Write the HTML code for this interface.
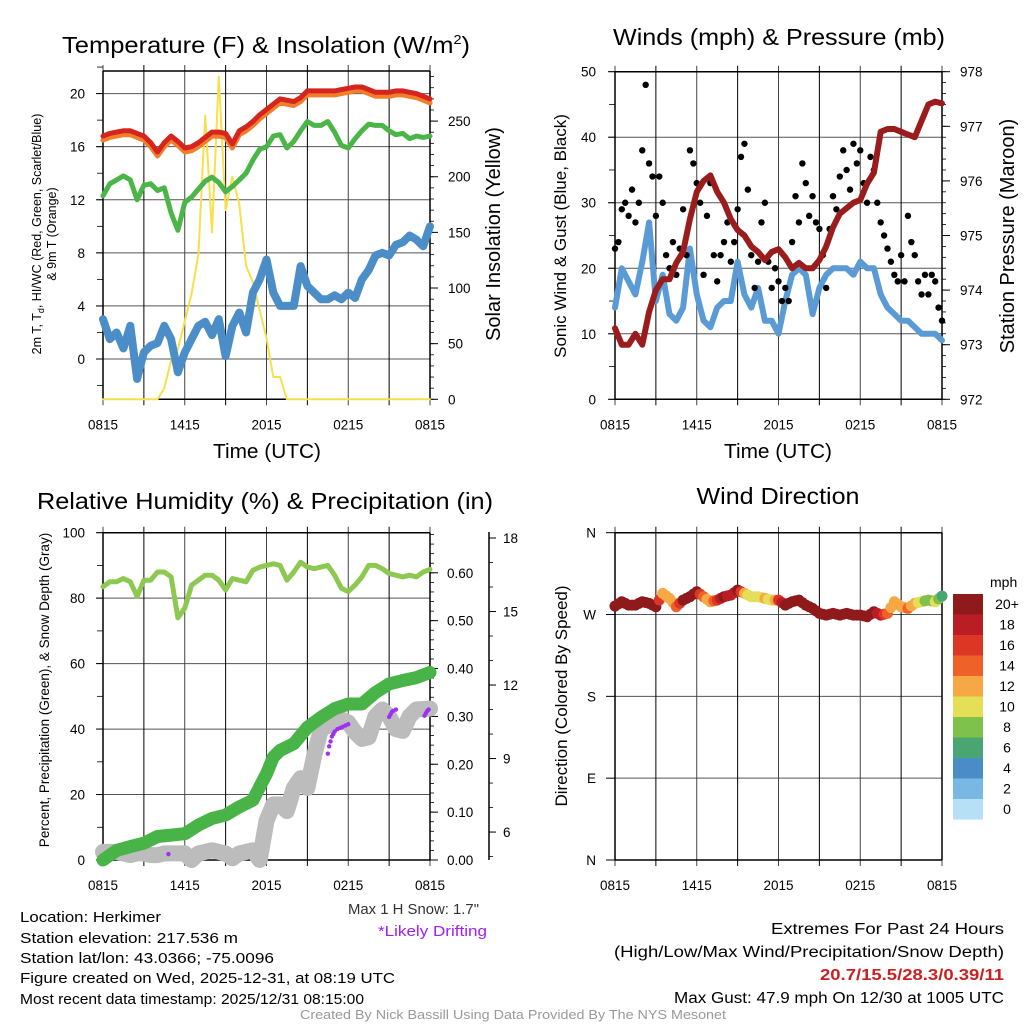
<!DOCTYPE html>
<html><head><meta charset="utf-8"><style>
html,body{margin:0;padding:0;background:#fff;}
svg{display:block;font-family:"Liberation Sans",sans-serif;}
</style></head><body>
<svg id="chart" width="1024" height="1024" viewBox="0 0 1024 1024" xmlns="http://www.w3.org/2000/svg">
<rect width="1024" height="1024" fill="#fff"/>
<text x="266" y="53" font-size="23" text-anchor="middle" textLength="408" lengthAdjust="spacingAndGlyphs">Temperature (F) &amp; Insolation (W/m<tspan font-size="13" dy="-9">2</tspan><tspan dy="9">)</tspan></text>
<text x="779" y="45" font-size="23" text-anchor="middle" textLength="332" lengthAdjust="spacingAndGlyphs">Winds (mph) &amp; Pressure (mb)</text>
<text x="265" y="509" font-size="23" text-anchor="middle" textLength="456" lengthAdjust="spacingAndGlyphs">Relative Humidity (%) &amp; Precipitation (in)</text>
<text x="778" y="504" font-size="23" text-anchor="middle" textLength="163" lengthAdjust="spacingAndGlyphs">Wind Direction</text>
<text x="267" y="458" font-size="20" text-anchor="middle" textLength="108" lengthAdjust="spacingAndGlyphs">Time (UTC)</text>
<text x="778" y="458" font-size="20" text-anchor="middle" textLength="108" lengthAdjust="spacingAndGlyphs">Time (UTC)</text>
<g font-size="12.5" text-anchor="middle">
<text transform="translate(41,234) rotate(-90)">2m T, T<tspan font-size="9" dy="3">d</tspan><tspan dy="-3">, HI/WC (Red, Green, Scarlet/Blue)</tspan></text>
<text transform="translate(56,234) rotate(-90)">&amp; 9m T (Orange)</text>
</g>
<text transform="translate(500,234) rotate(-90)" font-size="20" text-anchor="middle">Solar Insolation (Yellow)</text>
<text transform="translate(566,236) rotate(-90)" font-size="17" text-anchor="middle">Sonic Wind &amp; Gust (Blue, Black)</text>
<text transform="translate(1014,236) rotate(-90)" font-size="20" text-anchor="middle">Station Pressure (Maroon)</text>
<text transform="translate(49,690) rotate(-90)" font-size="13.5" text-anchor="middle">Percent, Precipitation (Green), &amp; Snow Depth (Gray)</text>
<text transform="translate(567,696) rotate(-90)" font-size="17" text-anchor="middle">Direction (Colored By Speed)</text>
<g font-size="14.5">
<text x="20" y="922" textLength="141" lengthAdjust="spacingAndGlyphs">Location: Herkimer</text>
<text x="20" y="943" textLength="218" lengthAdjust="spacingAndGlyphs">Station elevation: 217.536 m</text>
<text x="20" y="963" textLength="254" lengthAdjust="spacingAndGlyphs">Station lat/lon: 43.0366; -75.0096</text>
<text x="20" y="983" textLength="375" lengthAdjust="spacingAndGlyphs">Figure created on Wed, 2025-12-31, at 08:19 UTC</text>
<text x="20" y="1004" textLength="344" lengthAdjust="spacingAndGlyphs">Most recent data timestamp: 2025/12/31 08:15:00</text>
</g>
<text x="479" y="914" font-size="14.5" text-anchor="end" fill="#333" textLength="131" lengthAdjust="spacingAndGlyphs">Max 1 H Snow: 1.7"</text>
<text x="487" y="936" font-size="14.5" text-anchor="end" fill="#a020f0" textLength="109" lengthAdjust="spacingAndGlyphs">*Likely Drifting</text>
<g font-size="15.5" text-anchor="end">
<text x="1004" y="934" textLength="233" lengthAdjust="spacingAndGlyphs">Extremes For Past 24 Hours</text>
<text x="1004" y="957" textLength="390" lengthAdjust="spacingAndGlyphs">(High/Low/Max Wind/Precipitation/Snow Depth)</text>
<text x="1004" y="980" fill="#cc2020" font-weight="bold" textLength="184" lengthAdjust="spacingAndGlyphs">20.7/15.5/28.3/0.39/11</text>
<text x="1004" y="1003" textLength="330" lengthAdjust="spacingAndGlyphs">Max Gust: 47.9 mph On 12/30 at 1005 UTC</text>
</g>
<text x="513" y="1019" font-size="12.5" text-anchor="middle" fill="#999" textLength="426" lengthAdjust="spacingAndGlyphs">Created By Nick Bassill Using Data Provided By The NYS Mesonet</text>
</svg>
<script>
// ---- data (half-hourly unless noted) ----
var tempRed = [16.8,17.0,17.1,17.2,17.2,17.0,16.8,16.3,15.6,16.3,16.8,16.4,15.9,16.0,16.3,16.7,17.1,17.1,17.0,16.2,17.2,17.5,17.9,18.4,18.8,19.2,19.6,19.5,19.4,19.7,20.2,20.2,20.2,20.2,20.2,20.3,20.4,20.5,20.5,20.3,20.1,20.1,20.1,20.2,20.2,20.1,20.0,19.8,19.6];
var tempGreen = [12.3,13.2,13.5,13.8,13.5,12.0,13.1,13.2,12.7,12.9,11.0,9.7,11.8,12.2,12.8,13.4,13.7,13.3,12.6,13.0,13.5,14.0,15.0,15.8,16.0,16.8,16.9,15.9,16.4,17.2,17.9,17.6,17.6,17.9,17.1,16.1,15.9,16.6,17.2,17.7,17.6,17.6,17.2,16.9,17.0,16.6,16.8,16.7,16.8];
var tempBlue = [3.0,1.5,2.0,0.8,2.5,-1.5,0.5,1.0,1.2,2.5,1.5,-1.0,0.5,1.5,2.5,2.8,1.8,3.0,0.2,2.5,3.5,2.0,5.0,6.0,7.5,5.0,4.0,4.0,4.0,7.0,5.5,5.0,4.5,4.5,4.8,4.5,5.0,4.6,6.0,6.7,7.8,8.0,7.8,8.6,8.8,9.3,9.0,8.5,10.0];
var solar = [0,0,0,0,0,0,0,0,0,10,35,45,70,95,130,255,150,290,170,200,175,120,105,80,55,20,20,0,0,0,0,0,0,0,0,0,0,0,0,0,0,0,0,0,0,0,0,0,0];
var pressure = [973.3,973.0,973.0,973.2,973.0,973.6,974.0,974.2,974.2,974.5,974.7,975.3,975.8,976.0,976.1,975.8,975.6,975.3,975.1,975.0,974.8,974.7,974.55,974.7,974.75,974.6,974.4,974.5,974.4,974.4,974.55,974.8,975.15,975.4,975.5,975.6,975.65,975.95,976.15,976.9,976.95,976.95,976.9,976.85,976.8,977.1,977.4,977.45,977.42];
var windSpeed = [14,20,18,16,21,27,15,19,13,12,14,23,16,12,11,14,15,15,21,16,14,17,12,12,10,15,19,20,19,13,17,19,20,20,20,19,21,20,20,16,14,13,12,12,11,10,10,10,9];
// gusts every 15 minutes
var gusts = [23,24,29,30,28,32,27,30,38,48,36,34,28,34,30,22,20,24,19,23,29,22,38,36,33,30,19,28,33,22,18,22,24,27,21,24,29,37,39,32,22,17,21,27,30,21,17,20,18,15,17,15,24,31,27,36,33,28,31,27,26,22,17,26,31,29,34,38,35,32,39,36,38,33,30,37,35,30,27,25,23,21,19,18,22,18,28,24,22,18,16,19,16,19,18,14,12];
var rh = [83.5,85,85,86,85,80.5,85.5,85.5,88,88,86.5,74,77,84,85.5,87,87,85.5,82.5,86,85.5,85,88.5,89.5,90,90.5,90,85.5,88,91,89.5,89,89.5,90,87,83,82,84,86.5,90,90,89,87.5,87,86.5,87,86.5,88,88.8];
var precipHours = [0,1,2,3,4,5,6,7,8,9,10,11,11.5,12,12.5,13,14,15,16,17,18,19,20,21,22,23,24];
var precip = [0,0.02,0.028,0.035,0.049,0.052,0.055,0.073,0.087,0.094,0.111,0.125,0.153,0.18,0.215,0.229,0.243,0.277,0.298,0.316,0.326,0.326,0.35,0.368,0.375,0.381,0.392];
var snowDepth = [5.19,5.19,5.19,5.13,5.06,5.13,5.13,5.06,5.06,5.13,5.13,5.13,5.13,4.86,5.13,5.19,5.26,5.19,5.13,4.93,5.13,5.19,5.26,4.86,6.46,7.13,7.13,6.86,7.80,8.20,7.80,9.13,10.2,10.33,10.47,10.6,10.47,10.07,9.8,9.87,10.73,11.0,10.73,10.2,10.13,10.73,11.0,11.02,11.04];
var driftHours = [4.8,16.5,16.6,16.7,16.8,16.9,17.0,17.2,17.4,17.6,17.8,18.0,21.0,21.1,21.2,21.3,21.5,23.6,23.7,23.8,23.9];
var driftDepth = [5.1,9.2,9.5,9.7,9.9,10.0,10.1,10.2,10.25,10.3,10.35,10.4,10.7,10.8,10.9,10.95,11.0,10.75,10.85,10.95,11.0];
var direction = [279.3,284.1,280.4,280.4,284.1,282.3,278.6,293.3,287.8,278.6,285.9,289.6,295.1,289.6,284.1,285.9,289.6,291.4,296.9,293.3,289.6,289.6,287.8,285.9,285.9,280.4,284.1,285.9,280.4,276.8,271.3,269.4,271.3,269.4,271.3,269.4,269.4,267.6,273.1,269.4,271.3,284.1,278.6,276.8,282.3,284.1,285.9,284.1,290.3];
var dirSpeed = [20,20,21,20,20,21,20,13,12,14,20,20,21,14,13,16,20,18,21,12,10,11,12,10,17,20,21,20,20,20,21,20,21,20,21,20,21,20,20,18,14,12,13,14,12,10,9,10,7];
var speedBins = ["0","2","4","6","8","10","12","14","16","18","20+"];
var speedColors = ["#b5e0f6","#79b8e2","#4a8cc6","#49a571","#7ec24b","#e5df58","#f5a843","#ee6229","#dc3626","#bb1d25","#8e1a1b"];
var timeLabels = ["0815","1415","2015","0215","0815"];
var tempTicks = [0,4,8,12,16,20];
var solarTicks = [0,50,100,150,200,250];
var windTicks = [0,10,20,30,40,50];
var pressTicks = [972,973,974,975,976,977,978];
var rhTicks = [0,20,40,60,80,100];
var precipTicks = [0,0.1,0.2,0.3,0.4,0.5,0.6];
var snowTicks = [6,9,12,15,18];
var dirTicks = ["N","E","S","W","N"];

var NS = "http://www.w3.org/2000/svg";
var svg = document.getElementById("chart");
function mk(tag, attrs, name, parent) {
  var el = document.createElementNS(NS, tag);
  for (var k in attrs) el.setAttribute(k, attrs[k]);
  
  
  (parent || svg).appendChild(el);
  return el;
}
function lin(d0, d1, r0, r1) { return function (v) { return r0 + (v - d0) / (d1 - d0) * (r1 - r0); }; }
function halfHours(n) { var a = []; for (var i = 0; i < n; i++) a.push(i / 2); return a; }

function frame(x0, x1, yTop, yBot, yTicksPix, name) {
  var g = mk('g', {}, name + '-frame');
  yTicksPix.forEach(function (y) {
    mk('line', {x1: x0, x2: x1, y1: y, y2: y, stroke: '#555', 'stroke-width': 1}, name + '-h-gridline', g);
  });
  var xs = lin(0, 24, x0, x1);
  for (var h = 0; h <= 24; h += 3) {
    var x = xs(h);
    mk('line', {x1: x, x2: x, y1: yTop - 6, y2: yBot + 6, stroke: (h % 6 ? '#000' : '#444'), 'stroke-width': 1}, name + '-v-gridline', g);
  }
  mk('line', {x1: x0, x2: x0, y1: yTop, y2: yBot, stroke: '#000', 'stroke-width': 1.5}, name + '-left-axis', g);
  mk('line', {x1: x1, x2: x1, y1: yTop, y2: yBot, stroke: '#000', 'stroke-width': 1.5}, name + '-right-axis', g);
  mk('line', {x1: x0, x2: x1, y1: yTop, y2: yTop, stroke: '#000', 'stroke-width': 1.5}, name + '-top-axis', g);
  mk('line', {x1: x0, x2: x1, y1: yBot, y2: yBot, stroke: '#000', 'stroke-width': 1.5}, name + '-bottom-axis', g);
  timeLabels.forEach(function (t, i) {
    var tx = mk('text', {x: xs(i * 6), y: yBot + 30, 'font-size': 13.5, 'text-anchor': 'middle'}, name + '-x-tick-label', g);
    tx.textContent = t;
  });
  return xs;
}
function yAxisLabels(ticks, scale, x, anchor, fmt, tickX0, tickX1, name) {
  ticks.forEach(function (t) {
    var y = scale(t);
    mk('line', {x1: tickX0, x2: tickX1, y1: y, y2: y, stroke: '#000', 'stroke-width': 1}, name + '-tick', svg);
    var tx = mk('text', {x: x, y: y + 5, 'font-size': 13.5, 'text-anchor': anchor}, name + '-tick-label');
    tx.textContent = fmt ? fmt(t) : t;
  });
}
function minor(scale, from, to, step, xa, xb, name) {
  for (var v = from; v <= to + 1e-9; v += step) {
    var y = scale(v);
    mk('line', {x1: xa, x2: xb, y1: y, y2: y, stroke: '#000', 'stroke-width': 0.8}, name, svg);
  }
}
function path(xsArr, ysArr, xs, ys, attrs, name) {
  var d = '';
  for (var i = 0; i < xsArr.length; i++) d += (i ? 'L' : 'M') + xs(xsArr[i]).toFixed(1) + ',' + ys(ysArr[i]).toFixed(1);
  attrs.d = d; attrs.fill = 'none'; attrs['stroke-linejoin'] = 'round'; attrs['stroke-linecap'] = 'round';
  return mk('path', attrs, name);
}

// ---- Panel 1: temperature ----
var tY = lin(0, 20, 359, 93.6), sY = lin(0, 250, 399.3, 121.1);
var tx1 = frame(103, 430, 71, 399.3, tempTicks.map(tY), 'temp');
minor(tY, -2, 22, 2, 97, 103, 'temp-minor-tick');
minor(sY, 0, 290, 10, 430, 434, 'solar-minor-tick');
yAxisLabels(tempTicks, tY, 85, 'end', null, 96, 103, 'temp-y');
yAxisLabels(solarTicks, sY, 448, 'start', null, 430, 438, 'solar-y');
var hh = halfHours(49);
path(hh, solar, tx1, sY, {stroke: '#f8df4c', 'stroke-width': 2}, 'solar-line');
path(hh, tempBlue, tx1, tY, {stroke: '#4a8dc7', 'stroke-width': 8}, 'windchill-line');
path(hh, tempGreen, tx1, tY, {stroke: '#4bb548', 'stroke-width': 5}, 'dewpoint-line');
path(hh, tempRed.map(function (v) { return v - 0.3; }), tx1, tY, {stroke: '#f07e2b', 'stroke-width': 5}, 'temp-9m-line');
path(hh, tempRed, tx1, tY, {stroke: '#d6241f', 'stroke-width': 5}, 'temp-2m-line');

// ---- Panel 2: winds ----
var wY = lin(0, 50, 399.3, 71.7), pY = lin(972, 978, 399.3, 71.7);
var tx2 = frame(615, 942, 71.7, 399.3, windTicks.map(wY), 'wind');
minor(wY, 0, 50, 5, 609, 615, 'wind-minor-tick');
minor(pY, 972, 978, 0.2, 942, 946, 'pressure-minor-tick');
yAxisLabels(windTicks, wY, 596, 'end', null, 608, 615, 'wind-y');
yAxisLabels(pressTicks, pY, 960, 'start', null, 942, 950, 'pressure-y');
path(hh, windSpeed, tx2, wY, {stroke: '#5a9bd5', 'stroke-width': 6}, 'wind-speed-line');
gusts.forEach(function (g, i) {
  mk('circle', {cx: tx2(i / 4), cy: wY(g), r: 3.2, fill: '#000'}, 'gust-point');
});
path(hh, pressure, tx2, pY, {stroke: '#9b1c1c', 'stroke-width': 6}, 'pressure-line');

// ---- Panel 3: RH / precip / snow ----
var rY = lin(0, 100, 860, 532.7), prY = lin(0, 0.6, 860, 572.8), snY = lin(4.86, 18, 860, 538);
var tx3 = frame(103, 430, 532.7, 860, rhTicks.map(rY), 'rh');
minor(rY, 0, 100, 10, 97, 103, 'rh-minor-tick');
minor(prY, 0, 0.68, 0.02, 430, 434, 'precip-minor-tick');
yAxisLabels(rhTicks, rY, 85, 'end', null, 96, 103, 'rh-y');
yAxisLabels(precipTicks, prY, 447, 'start', function (v) { return v.toFixed(2); }, 430, 438, 'precip-y');
mk('line', {x1: 489, x2: 489, y1: 532, y2: 860, stroke: '#000', 'stroke-width': 1.5}, 'snow-axis');
minor(snY, 5, 18, 1, 489, 493, 'snow-minor-tick');
yAxisLabels(snowTicks, snY, 503, 'start', null, 489, 496, 'snow-y');
path(hh, snowDepth, tx3, snY, {stroke: '#bcbcbc', 'stroke-width': 16}, 'snow-depth-line');
path(precipHours, precip, tx3, prY, {stroke: '#48b447', 'stroke-width': 13}, 'precip-line');
path(hh, rh, tx3, rY, {stroke: '#8dc851', 'stroke-width': 5}, 'rh-line');
driftHours.forEach(function (h, i) {
  mk('circle', {cx: tx3(h), cy: snY(driftDepth[i]), r: 2.2, fill: '#a030f0'}, 'drifting-point');
});

// ---- Panel 4: wind direction ----
var dY = lin(0, 360, 860, 532.7);
var tx4 = frame(615, 942, 532.7, 860, [0, 90, 180, 270, 360].map(dY), 'dir');
dirTicks.forEach(function (t, i) {
  var y = dY(i * 90);
  mk('line', {x1: 606, x2: 615, y1: y, y2: y, stroke: '#000', 'stroke-width': 1}, 'dir-tick');
  var tx = mk('text', {x: 596, y: y + 5, 'font-size': 13.5, 'text-anchor': 'end'}, 'dir-tick-label');
  tx.textContent = t;
});
function speedColor(s) { var b = Math.min(10, Math.max(0, Math.floor(s / 2))); return speedColors[b]; }
direction.forEach(function (d, i) {
  mk('circle', {cx: tx4(i / 2), cy: dY(d), r: 5.5, fill: speedColor(dirSpeed[i])}, 'direction-point');
  if (i < direction.length - 1) {
    mk('circle', {cx: tx4(i / 2 + 0.25), cy: dY((d + direction[i + 1]) / 2), r: 5.5, fill: speedColor((dirSpeed[i] + dirSpeed[i + 1]) / 2)}, 'direction-point');
  }
});
var lg = mk('g', {}, 'speed-legend');
var mph = mk('text', {x: 990, y: 587, 'font-size': 14}, 'legend-title', lg);
mph.textContent = 'mph';
for (var k = 0; k < speedBins.length; k++) {
  var idx = speedBins.length - 1 - k;
  var yb = 594 + k * 20.5;
  mk('rect', {x: 953, y: yb, width: 30, height: 20.6, fill: speedColors[idx]}, 'legend-swatch', lg);
  var lt = mk('text', {x: 1007, y: yb + 15, 'font-size': 14, 'text-anchor': 'middle'}, 'legend-label', lg);
  lt.textContent = speedBins[idx];
}
</script>
</body></html>
